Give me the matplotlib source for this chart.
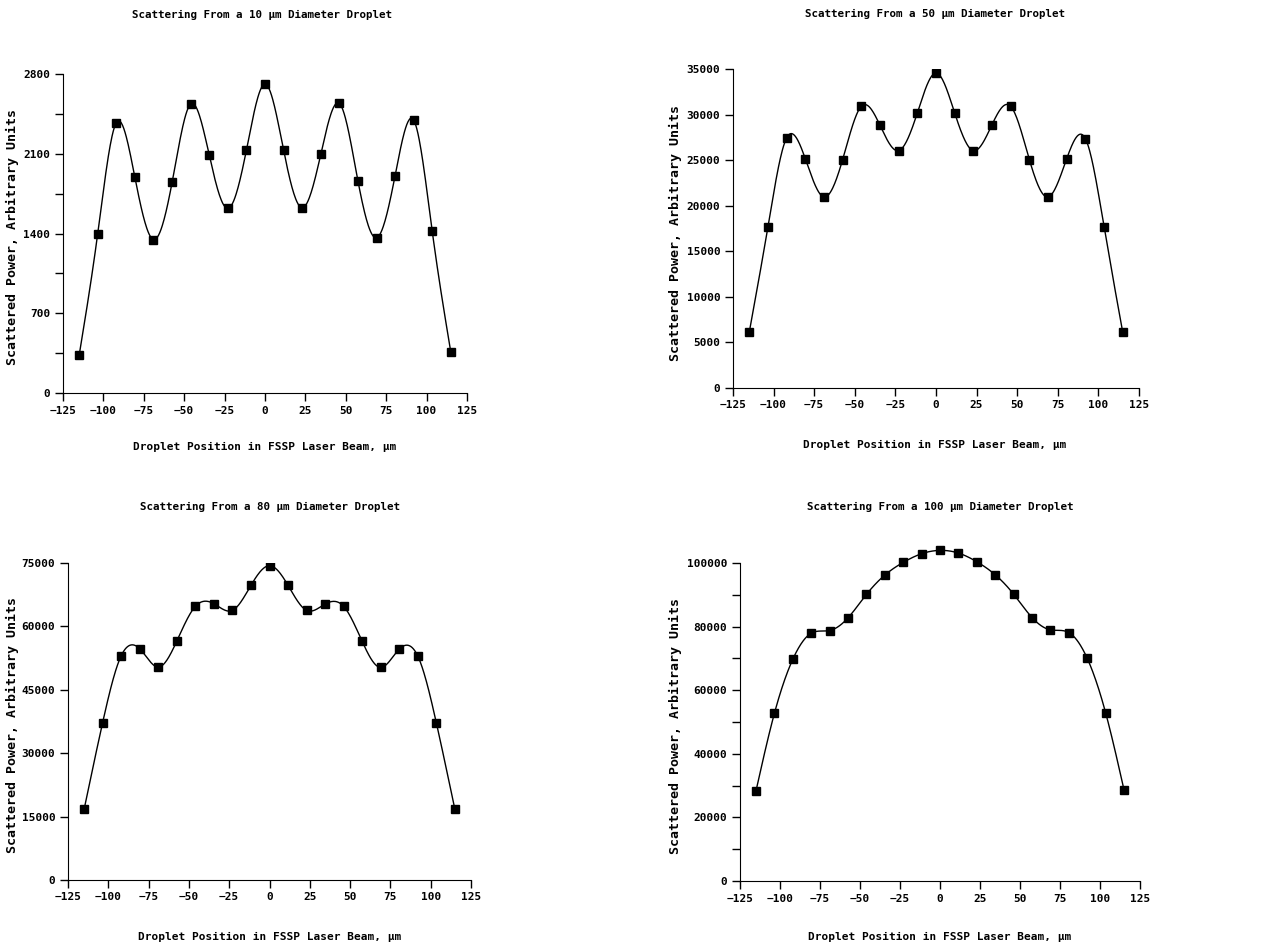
import numpy as np
import matplotlib
matplotlib.use("Agg")
import matplotlib.pyplot as plt
from matplotlib.ticker import MultipleLocator

plt.rcParams['font.family'] = ['DejaVu Sans Mono']
plt.rcParams['font.weight'] = 'bold'

# posiciones de la gota en el haz (um)
pos = [-115, -103.5, -92, -80.5, -69, -57.5, -46, -34.5, -23, -11.5, 0,
       11.5, 23, 34.5, 46, 57.5, 69, 80.5, 92, 103.5, 115]

# potencia dispersada, unidades arbitrarias
p10 = [331, 1400, 2373, 1892, 1347, 1848, 2537, 2088, 1620, 2132, 2712,
       2132, 1626, 2094, 2542, 1863, 1362, 1907, 2396, 1418, 357]
p50 = [6108, 17666, 27432, 25165, 20958, 25055, 30907, 28822, 26042, 30176, 34565,
       30176, 26042, 28895, 30907, 25055, 20958, 25165, 27359, 17666, 6108]
p80 = [16737, 37263, 53053, 54710, 50368, 56526, 64737, 65368, 63789, 69710, 74368,
       69710, 63789, 65289, 64737, 56447, 50289, 54631, 52973, 37184, 16737]
p100 = [28361, 52731, 69748, 77941, 78782, 82773, 90126, 96218, 100210, 102941, 103992,
        103151, 100420, 96323, 90231, 82878, 78992, 78151, 70063, 52941, 28676]

titulos = ["Scattering From a 10 µm Diameter Droplet",
           "Scattering From a 50 µm Diameter Droplet",
           "Scattering From a 80 µm Diameter Droplet",
           "Scattering From a 100 µm Diameter Droplet"]
xlab = "Droplet Position in FSSP Laser Beam, µm"
ylab = "Scattered Power, Arbitrary Units"


#Spline cubico natural para la curva suave
def spline(x, y, n=600):
    x = np.asarray(x, float)
    y = np.asarray(y, float)
    N = len(x)
    h = np.diff(x)
    A = np.zeros((N, N))
    b = np.zeros(N)
    A[0, 0] = 1
    A[-1, -1] = 1
    for i in range(1, N-1):
        A[i, i-1] = h[i-1]
        A[i, i] = 2*(h[i-1]+h[i])
        A[i, i+1] = h[i]
        b[i] = 3*((y[i+1]-y[i])/h[i] - (y[i]-y[i-1])/h[i-1])
    c = np.linalg.solve(A, b)
    xs = np.linspace(x[0], x[-1], n)
    ys = np.zeros(n)
    for j in range(n):
        i = min(np.searchsorted(x, xs[j]) - 1, N-2)
        i = max(i, 0)
        dx = xs[j]-x[i]
        bb = (y[i+1]-y[i])/h[i] - h[i]*(2*c[i]+c[i+1])/3
        d = (c[i+1]-c[i])/(3*h[i])
        ys[j] = y[i] + bb*dx + c[i]*dx**2 + d*dx**3
    return xs, ys


fig = plt.figure(figsize=(12.63, 9.48), dpi=100)

W, H = 1263.0, 948.0
# (left, bottom, width, height) en pixeles
cajas = [(63, 393, 404, 319), (733, 388, 406, 319),
         (68, 880, 403, 317), (740, 881, 400, 337)]
datos = [p10, p50, p80, p100]
ylims = [(0, 2800), (0, 35000), (0, 75000), (0, 106000)]
yticks = [700, 5000, 15000, 20000]
tit_pos = [(262, 15), (935, 14), (270, 507), (940, 507)]
xl_pos = [(265, 447), (935, 445), (270, 937), (940, 937)]
yl_pos = [(12, 237), (675, 233), (12, 725), (675, 726)]

for k in range(4):
    l, b, w, h = cajas[k]
    ax = fig.add_axes([l/W, 1-b/H, w/W, h/H])
    xs, ys = spline(pos, datos[k])
    ax.plot(xs, ys, color='black', lw=1.0)
    ax.plot(pos, datos[k], 's', color='black', ms=5.5)
    ax.set_xlim(-125, 125)
    ax.set_ylim(*ylims[k])
    ax.xaxis.set_major_locator(MultipleLocator(25))
    ax.yaxis.set_major_locator(MultipleLocator(yticks[k]))
    if k == 0:
        ax.yaxis.set_minor_locator(MultipleLocator(350))
    if k == 3:
        ax.yaxis.set_minor_locator(MultipleLocator(10000))
        ax.spines['left'].set_bounds(0, 100000)
        ax.set_yticks(np.arange(0, 100001, 20000))
    ax.spines['top'].set_visible(False)
    ax.spines['right'].set_visible(False)
    ax.tick_params(which='both', direction='out', length=6, width=1, labelsize=8, pad=3)
    for lab in ax.get_xticklabels() + ax.get_yticklabels():
        lab.set_fontweight('bold')

    fig.text(tit_pos[k][0]/W, 1-tit_pos[k][1]/H, titulos[k], ha='center', va='center',
             fontsize=7.8, fontweight='bold')
    fig.text(xl_pos[k][0]/W, 1-xl_pos[k][1]/H, xlab, ha='center', va='center',
             fontsize=8, fontweight='bold')
    fig.text(yl_pos[k][0]/W, 1-yl_pos[k][1]/H, ylab, ha='center', va='center',
             rotation=90, fontsize=9.5, fontweight='bold')

plt.savefig("out.png", dpi=100)
